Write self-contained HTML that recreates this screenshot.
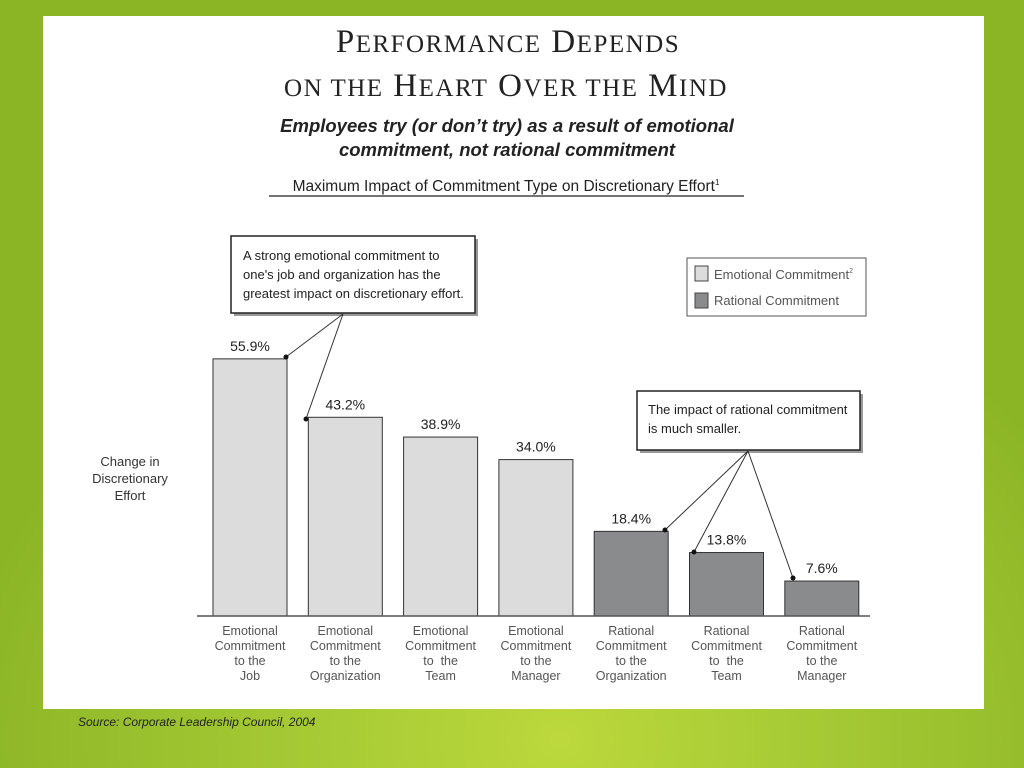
<!DOCTYPE html>
<html><head><meta charset="utf-8"><style>
html,body{margin:0;padding:0}
body{width:1024px;height:768px;position:relative;overflow:hidden;background:radial-gradient(ellipse 600px 500px at 560px 740px,#bcd83c 0%,#a4c934 45%,#8cb526 100%);font-family:"Liberation Sans",sans-serif}
#panel{position:absolute;left:43px;top:16px;width:941px;height:693px;background:#fff}
svg{position:absolute;left:0;top:0}
</style></head><body>
<div id="panel"></div>
<svg width="1024" height="768">
<g font-family="Liberation Serif,serif" fill="#222" text-anchor="middle">
<text x="508" y="52" font-size="33" letter-spacing="1.5">P<tspan font-size="25">ERFORMANCE</tspan> D<tspan font-size="25">EPENDS</tspan></text>
<text x="506" y="96" font-size="33" letter-spacing="1.5"><tspan font-size="25">ON THE</tspan> H<tspan font-size="25">EART</tspan> O<tspan font-size="25">VER THE</tspan> M<tspan font-size="25">IND</tspan></text>
</g>
<g font-size="18.5" font-weight="bold" font-style="italic" fill="#222" text-anchor="middle">
<text x="507" y="132">Employees try (or don’t try) as a result of emotional</text>
<text x="507" y="156">commitment, not rational commitment</text>
</g>
<text x="506" y="191" font-size="15.5" fill="#222" text-anchor="middle">Maximum Impact of Commitment Type on Discretionary Effort<tspan font-size="8" dy="-6">1</tspan></text>
<line x1="269" y1="196" x2="744" y2="196" stroke="#222" stroke-width="1.2"/>
<g font-size="13" fill="#333" text-anchor="middle">
<text x="130" y="466">Change in</text><text x="130" y="483">Discretionary</text><text x="130" y="500">Effort</text>
</g>
<g id="bars"></g>
<line x1="197" y1="616" x2="870" y2="616" stroke="#555" stroke-width="1.5"/>
<g>
<rect x="687" y="258" width="179" height="58" fill="#fff" stroke="#555"/>
<rect x="695" y="266" width="13" height="15" fill="#dcdcdd" stroke="#444"/>
<text x="714" y="279" font-size="13" fill="#555">Emotional Commitment<tspan font-size="7" dy="-6">2</tspan></text>
<rect x="695" y="293" width="13" height="15" fill="#8a8b8d" stroke="#444"/>
<text x="714" y="305" font-size="13" fill="#555">Rational Commitment</text>
</g>
<g>
<rect x="234" y="239" width="244" height="77" fill="#999"/>
<rect x="231" y="236" width="244" height="77" fill="#fff" stroke="#222" stroke-width="1.5"/>
<text x="243" y="260" font-size="13" fill="#222">A strong emotional commitment to</text>
<text x="243" y="279" font-size="13" fill="#222">one's job and organization has the</text>
<text x="243" y="298" font-size="13" fill="#222">greatest impact on discretionary effort.</text>
<line x1="343" y1="314" x2="286" y2="357" stroke="#333"/>
<line x1="343" y1="314" x2="306" y2="419" stroke="#333"/>
<circle cx="286" cy="357" r="2.5" fill="#111"/><circle cx="306" cy="419" r="2.5" fill="#111"/>
</g>
<g>
<rect x="640" y="394" width="223" height="59" fill="#999"/>
<rect x="637" y="391" width="223" height="59" fill="#fff" stroke="#222" stroke-width="1.5"/>
<text x="648" y="414" font-size="13" fill="#222">The impact of rational commitment</text>
<text x="648" y="433" font-size="13" fill="#222">is much smaller.</text>
<line x1="748" y1="451" x2="665" y2="530" stroke="#333"/>
<line x1="748" y1="451" x2="694" y2="552" stroke="#333"/>
<line x1="748" y1="451" x2="793" y2="578" stroke="#333"/>
<circle cx="665" cy="530" r="2.5" fill="#111"/><circle cx="694" cy="552" r="2.5" fill="#111"/><circle cx="793" cy="578" r="2.5" fill="#111"/>
</g>
<text x="78" y="726" font-size="12" font-style="italic" fill="#222">Source: Corporate Leadership Council, 2004</text>
</svg>
<script>
const categories=[["Emotional","Commitment","to the","Job"],["Emotional","Commitment","to the","Organization"],["Emotional","Commitment","to  the","Team"],["Emotional","Commitment","to the","Manager"],["Rational","Commitment","to the","Organization"],["Rational","Commitment","to  the","Team"],["Rational","Commitment","to the","Manager"]];
const values=[55.9,43.2,38.9,34.0,18.4,13.8,7.6];
const types=["e","e","e","e","r","r","r"];
const valueLabels=["55.9%","43.2%","38.9%","34.0%","18.4%","13.8%","7.6%"];
const NS="http://www.w3.org/2000/svg";
const g=document.getElementById('bars');
const y=v=>616-v*4.6;
const x=i=>213+i*95.3;
const bw=74;
values.forEach((v,i)=>{
  const r=document.createElementNS(NS,'rect');
  
  
  r.setAttribute('x',x(i));r.setAttribute('y',y(v));r.setAttribute('width',bw);r.setAttribute('height',616-y(v));
  r.setAttribute('fill',types[i]==='e'?'#dcdcdd':'#8a8b8d');r.setAttribute('stroke','#333');
  g.appendChild(r);
  const t=document.createElementNS(NS,'text');
  
  
  t.setAttribute('x',x(i)+bw/2);t.setAttribute('y',y(v)-8);t.setAttribute('text-anchor','middle');
  t.setAttribute('font-size','14');t.setAttribute('fill','#222');t.textContent=valueLabels[i];
  g.appendChild(t);
  categories[i].forEach((line,j)=>{
    const c=document.createElementNS(NS,'text');
    
    
    c.setAttribute('x',x(i)+bw/2);c.setAttribute('y',635+j*15);c.setAttribute('text-anchor','middle');
    c.setAttribute('font-size','12.5');c.setAttribute('fill','#555');
    c.style.whiteSpace='pre';c.textContent=line;
    g.appendChild(c);
  });
});
</script>
</body></html>
